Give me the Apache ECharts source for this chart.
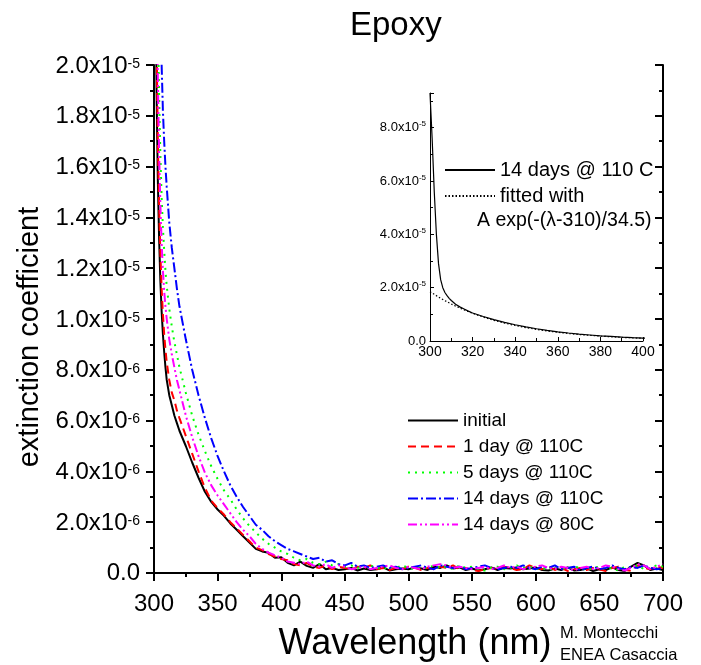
<!DOCTYPE html>
<html>
<head>
<meta charset="utf-8">
<script src="https://cdn.jsdelivr.net/npm/echarts@6/dist/echarts.min.js"></script>
<style>
  html, body { margin: 0; padding: 0; background: #fff; }
  #chart { width: 701px; height: 665px; }
</style>
</head>
<body>
<div id="chart"></div>
<script>
// Wavelength grid (nm) shared by all measured spectra
const wavelength = [300, 301, 302, 303, 304, 305, 306, 307, 308, 309, 310,
  312, 314, 316, 318, 320,
  325, 330, 335, 340, 345, 350, 355, 360, 365, 370, 375, 380, 385, 390, 395, 400,
  405, 410, 415, 420, 425, 430, 435, 440, 445, 450, 455, 460, 465, 470, 475, 480,
  485, 490, 495, 500, 505, 510, 515, 520, 525, 530, 535, 540, 545, 550, 555, 560,
  565, 570, 575, 580, 585, 590, 595, 600, 605, 610, 615, 620, 625, 630, 635, 640,
  645, 650, 655, 660, 665, 670, 675, 680, 685, 690, 695, 700];

// Extinction coefficient, in units of 1e-6
const initial = [40, 26, 19, 15.5, 13.2, 11.5, 10.3, 9.4, 8.7, 8.1, 7.6,
  7.0, 6.6, 6.2, 5.9, 5.6,
  5.0, 4.35, 3.75, 3.2, 2.8, 2.5, 2.25, 1.95, 1.7, 1.45, 1.2, 0.95, 0.85, 0.8, 0.6, 0.62,
  0.4, 0.3, 0.45, 0.28, 0.2, 0.35, 0.15, 0.2, 0.12, 0.15, 0.2, 0.1, 0.18, 0.12, 0.15, 0.22,
  0.1, 0.15, 0.18, 0.15, 0.22, 0.18, 0.12, 0.25, 0.2, 0.3, 0.18, 0.22, 0.12, 0.18, 0.1, 0.15,
  0.22, 0.12, 0.2, 0.18, 0.22, 0.15, 0.18, 0.22, 0.12, 0.1, 0.18, 0.12, 0.22, 0.1, 0.12, 0.18,
  0.08, 0.15, 0.12, 0.22, 0.12, 0.08, 0.25, 0.4, 0.3, 0.12, 0.18, 0.12];

const day1At110 = [45, 29, 21, 17, 14.5, 12.6, 11.2, 10.2, 9.4, 8.8, 8.3,
  7.6, 7.1, 6.8, 6.4, 6.1,
  5.4, 4.7, 4.0, 3.35, 2.85, 2.55, 2.3, 2.0, 1.75, 1.5, 1.25, 1.0, 0.9, 0.75, 0.65, 0.55,
  0.5, 0.35, 0.3, 0.4, 0.25, 0.2, 0.3, 0.15, 0.25, 0.2, 0.12, 0.25, 0.2, 0.3, 0.15, 0.2,
  0.12, 0.2, 0.15, 0.25, 0.2, 0.12, 0.2, 0.15, 0.25, 0.2, 0.3, 0.15, 0.2, 0.12, 0.08, 0.15,
  0.2, 0.15, 0.25, 0.2, 0.12, 0.15, 0.3, 0.2, 0.15, 0.25, 0.12, 0.2, 0.08, 0.15, 0.2, 0.12,
  0.2, 0.15, 0.08, 0.2, 0.25, 0.12, 0.08, 0.3, 0.2, 0.15, 0.25, 0.2];

const days5At110 = [55, 36, 27, 22, 18.8, 16.5, 14.8, 13.6, 12.7, 11.9, 11.3,
  10.4, 9.7, 9.1, 8.6, 8.1,
  7.1, 6.2, 5.45, 4.8, 4.2, 3.7, 3.25, 2.9, 2.5, 2.15, 1.85, 1.6, 1.35, 1.15, 1.0, 0.85,
  0.75, 0.6, 0.5, 0.55, 0.4, 0.35, 0.45, 0.3, 0.35, 0.25, 0.3, 0.2, 0.25, 0.3, 0.2, 0.15,
  0.25, 0.2, 0.3, 0.2, 0.15, 0.25, 0.2, 0.3, 0.2, 0.25, 0.15, 0.3, 0.2, 0.25, 0.15, 0.1,
  0.2, 0.25, 0.15, 0.2, 0.3, 0.2, 0.25, 0.15, 0.2, 0.1, 0.25, 0.2, 0.15, 0.25, 0.2, 0.1,
  0.2, 0.25, 0.15, 0.2, 0.1, 0.25, 0.2, 0.3, 0.15, 0.2, 0.3, 0.25];

const days14At110 = [93, 76, 56, 40, 29, 23, 20, 18.2, 17.0, 16.0, 15.2,
  13.8, 12.8, 12.0, 11.2, 10.5,
  9.2, 8.0, 7.0, 6.1, 5.3, 4.6, 4.0, 3.45, 3.0, 2.6, 2.25, 1.9, 1.7, 1.45, 1.25, 1.1,
  0.95, 0.85, 0.75, 0.65, 0.55, 0.6, 0.45, 0.5, 0.35, 0.3, 0.4, 0.25, 0.3, 0.2, 0.25, 0.3,
  0.2, 0.25, 0.15, 0.2, 0.25, 0.3, 0.2, 0.15, 0.3, 0.25, 0.2, 0.25, 0.15, 0.2, 0.25, 0.3,
  0.2, 0.15, 0.2, 0.25, 0.2, 0.3, 0.2, 0.15, 0.25, 0.2, 0.3, 0.15, 0.2, 0.25, 0.1, 0.2,
  0.25, 0.15, 0.2, 0.3, 0.2, 0.15, 0.25, 0.2, 0.3, 0.2, 0.15, 0.2];

const days14At80 = [50, 33, 24, 19.5, 16.6, 14.5, 13.0, 11.9, 11.1, 10.5, 10.0,
  9.2, 8.6, 8.1, 7.6, 7.2,
  6.2, 5.35, 4.6, 3.95, 3.45, 3.05, 2.7, 2.35, 2.0, 1.7, 1.45, 1.15, 0.95, 0.8, 0.7, 0.6,
  0.45, 0.4, 0.35, 0.45, 0.3, 0.25, 0.35, 0.2, 0.3, 0.25, 0.15, 0.2, 0.25, 0.15, 0.2, 0.25,
  0.3, 0.2, 0.15, 0.25, 0.2, 0.15, 0.25, 0.3, 0.35, 0.3, 0.2, 0.25, 0.2, 0.15, 0.2, 0.25,
  0.15, 0.2, 0.3, 0.2, 0.25, 0.15, 0.2, 0.25, 0.3, 0.2, 0.15, 0.25, 0.2, 0.1, 0.2, 0.25,
  0.15, 0.2, 0.3, 0.25, 0.15, 0.1, 0.2, 0.35, 0.3, 0.15, 0.25, 0.35];

// Exponential fit of the 14 days @ 110 C spectrum, in units of 1e-6
const fitWavelength = [300, 305, 310, 315, 320, 325, 330, 335, 340, 345, 350,
  355, 360, 365, 370, 375, 380, 385, 390, 395, 400];
const fitValues = [18.5, 16.0, 13.85, 12.0, 10.4, 8.97, 7.76, 6.71, 5.81, 5.02, 4.34,
  3.76, 3.25, 2.81, 2.43, 2.11, 1.82, 1.58, 1.36, 1.18, 1.02];

const seriesNames = ['initial', '1 day @ 110C', '5 days @ 110C', '14 days @ 110C', '14 days @ 80C'];
const seriesValues = [initial, day1At110, days5At110, days14At110, days14At80];
const seriesColors = ['#000000', '#ff0000', '#00ff00', '#0000ff', '#ff00ff'];
const seriesDash = ['solid', [8, 5], [2, 5], [10, 3, 2, 3], [9, 3, 2, 3, 2, 3]];

const FONT = '"Liberation Sans", Arial, Helvetica, sans-serif';

function pairs(xs, ys) { return xs.map((x, i) => [x, ys[i]]); }

function mainYLabel(v) {
  if (v === 0) return '{z|0.0}';
  if (v >= 10) return '{m|' + (v / 10).toFixed(1) + 'x10}{s|-5}';
  return '{m|' + v.toFixed(1) + 'x10}{s|-6}';
}
function insetYLabel(v) {
  if (v === 0) return '{z|0.0}';
  return '{m|' + (v / 10).toFixed(1) + 'x10}{s|-5}';
}

const boxLine = { show: true, lineStyle: { color: '#000', width: 2 } };

const chart = echarts.init(document.getElementById('chart'), null, { renderer: 'canvas' });

const mainSeries = seriesNames.map((name, i) => ({
  name: name,
  type: 'line',
  xAxisIndex: 0,
  yAxisIndex: 0,
  data: pairs(wavelength, seriesValues[i]),
  symbol: 'none',
  showSymbol: false,
  smooth: false,
  clip: true,
  animation: false,
  lineStyle: { color: seriesColors[i], width: 2, type: seriesDash[i] },
  itemStyle: { color: seriesColors[i] },
  z: 2 + i
}));

const option = {
  animation: false,
  backgroundColor: '#ffffff',
  title: {
    text: 'Epoxy',
    left: 345,
    top: 4,
    textStyle: { fontFamily: FONT, fontSize: 33, fontWeight: 'normal', color: '#000' }
  },
  grid: [
    { left: 154, top: 65, width: 509, height: 508, containLabel: false },
    { left: 430, top: 93, width: 213, height: 248, containLabel: false }
  ],
  xAxis: [
    {
      type: 'value', gridIndex: 0, min: 300, max: 700, interval: 50,
      axisLine: boxLine,
      axisTick: { show: true, length: 8, lineStyle: { width: 2, color: '#000' } },
      minorTick: { show: true, splitNumber: 2, length: 4, lineStyle: { width: 2, color: '#000' } },
      splitLine: { show: false },
      axisLabel: { fontFamily: FONT, fontSize: 24, color: '#000', margin: 19 }
    },
    {
      type: 'value', gridIndex: 0, position: 'top', min: 300, max: 700, interval: 50,
      axisLine: boxLine,
      axisTick: { show: true, inside: true, length: 8, lineStyle: { width: 2, color: '#000' } },
      minorTick: { show: true, splitNumber: 2, length: 4, lineStyle: { width: 2, color: '#000' } },
      splitLine: { show: false },
      axisLabel: { show: false }
    },
    {
      type: 'value', gridIndex: 1, min: 300, max: 400, interval: 20,
      axisLine: { show: true, lineStyle: { color: '#000', width: 1 } },
      axisTick: { show: true, inside: true, length: 4, lineStyle: { width: 1, color: '#000' } },
      minorTick: { show: true, splitNumber: 2, length: 3, lineStyle: { width: 1, color: '#000' } },
      splitLine: { show: false },
      axisLabel: { fontFamily: FONT, fontSize: 14, color: '#000', margin: 4 }
    }
  ],
  yAxis: [
    {
      type: 'value', gridIndex: 0, min: 0, max: 20, interval: 2,
      axisLine: boxLine,
      axisTick: { show: true, length: 8, lineStyle: { width: 2, color: '#000' } },
      minorTick: { show: true, splitNumber: 2, length: 4, lineStyle: { width: 2, color: '#000' } },
      splitLine: { show: false },
      axisLabel: {
        margin: 14, color: '#000', formatter: mainYLabel,
        rich: {
          z: { fontFamily: FONT, fontSize: 24, color: '#000', lineHeight: 26 },
          m: { fontFamily: FONT, fontSize: 24, color: '#000', lineHeight: 26, verticalAlign: 'bottom' },
          s: { fontFamily: FONT, fontSize: 14, color: '#000', lineHeight: 14, verticalAlign: 'top', padding: [5, 0, 15, 0] }
        }
      }
    },
    {
      type: 'value', gridIndex: 0, position: 'right', min: 0, max: 20, interval: 2,
      axisLine: boxLine,
      axisTick: { show: true, inside: true, length: 8, lineStyle: { width: 2, color: '#000' } },
      minorTick: { show: true, splitNumber: 2, length: 4, lineStyle: { width: 2, color: '#000' } },
      splitLine: { show: false },
      axisLabel: { show: false }
    },
    {
      type: 'value', gridIndex: 1, min: 0, max: 93, interval: 20,
      axisLine: { show: true, lineStyle: { color: '#000', width: 1 } },
      axisTick: { show: true, inside: true, length: 4, lineStyle: { width: 1, color: '#000' } },
      minorTick: { show: true, splitNumber: 2, length: 3, lineStyle: { width: 1, color: '#000' } },
      splitLine: { show: false },
      axisLabel: {
        margin: 4, color: '#000', formatter: insetYLabel, showMaxLabel: false,
        rich: {
          z: { fontFamily: FONT, fontSize: 13, color: '#000', lineHeight: 15 },
          m: { fontFamily: FONT, fontSize: 13, color: '#000', lineHeight: 15 },
          s: { fontFamily: FONT, fontSize: 8, color: '#000', verticalAlign: 'top', lineHeight: 8 }
        }
      }
    }
  ],
  legend: [
    {
      data: seriesNames,
      orient: 'vertical',
      left: 402,
      top: 406,
      itemWidth: 50,
      itemHeight: 19,
      itemGap: 7,
      selectedMode: false,
      itemStyle: { opacity: 0 },
      textStyle: { fontFamily: FONT, fontSize: 19, color: '#000' }
    },
    {
      data: ['14 days @ 110 C', 'fitted with'],
      orient: 'vertical',
      left: 439,
      top: 155,
      itemWidth: 50,
      itemHeight: 20,
      itemGap: 6,
      selectedMode: false,
      itemStyle: { opacity: 0 },
      textStyle: { fontFamily: FONT, fontSize: 20, color: '#000' }
    }
  ],
  graphic: [
    {
      type: 'text', left: 477, top: 211, z: 100,
      style: { text: 'A exp(-(λ-310)/34.5)', font: '19.5px ' + FONT, fill: '#000' }
    },
    {
      type: 'text', x: 30, y: 337, rotation: Math.PI / 2, z: 100,
      style: { text: 'extinction coefficient', font: '29px ' + FONT, fill: '#000', align: 'center', verticalAlign: 'middle' }
    },
    {
      type: 'text', x: 415, y: 644, z: 100,
      style: { text: 'Wavelength (nm)', font: '36px ' + FONT, fill: '#000', align: 'center', verticalAlign: 'middle' }
    },
    {
      type: 'text', x: 560, y: 633, z: 100,
      style: { text: 'M. Montecchi', font: '16.5px ' + FONT, fill: '#000', align: 'left', verticalAlign: 'middle' }
    },
    {
      type: 'text', x: 560, y: 655, z: 100,
      style: { text: 'ENEA Casaccia', font: '16.5px ' + FONT, fill: '#000', align: 'left', verticalAlign: 'middle' }
    }
  ],
  series: mainSeries.concat([
    {
      name: '14 days @ 110 C',
      type: 'line',
      xAxisIndex: 2,
      yAxisIndex: 2,
      data: pairs(wavelength, days14At110),
      symbol: 'none',
      clip: true,
      lineStyle: { color: '#000', width: 1.2, type: 'solid' },
      itemStyle: { color: '#000' },
      z: 10
    },
    {
      name: 'fitted with',
      type: 'line',
      xAxisIndex: 2,
      yAxisIndex: 2,
      data: pairs(fitWavelength, fitValues),
      symbol: 'none',
      clip: true,
      lineStyle: { color: '#000', width: 1.2, type: [1.5, 2] },
      itemStyle: { color: '#000' },
      z: 11
    }
  ])
};

chart.setOption(option);
</script>
</body>
</html>
